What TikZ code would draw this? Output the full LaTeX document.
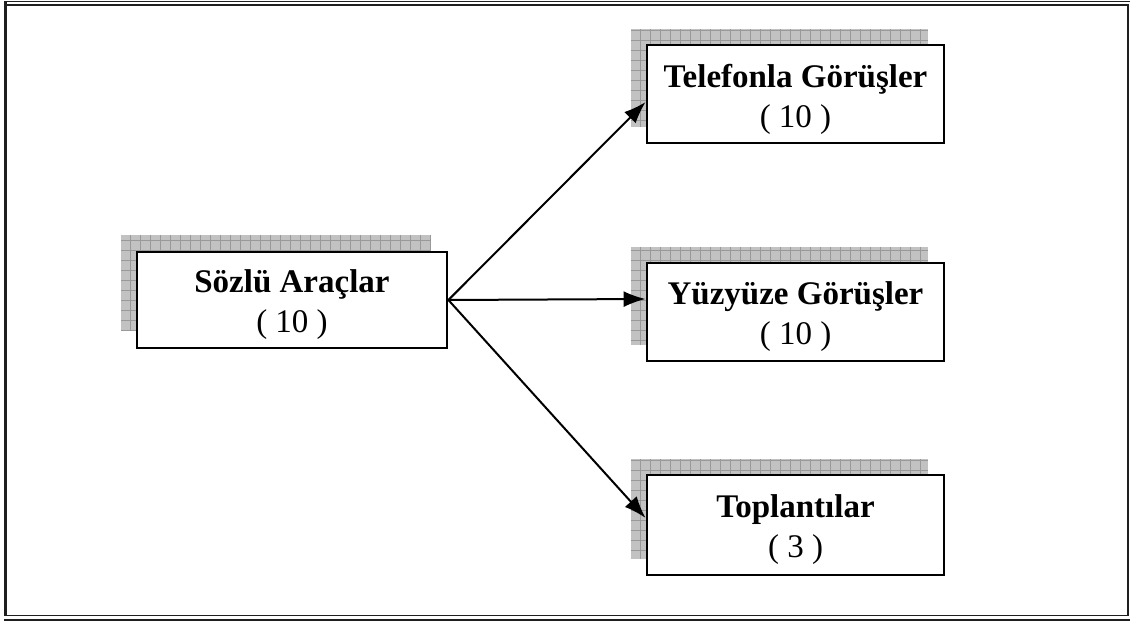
\documentclass[tikz,border=0pt]{standalone}
\usepackage{fontspec}
\setmainfont{Liberation Serif}
\usetikzlibrary{arrows.meta}
\tikzset{
  box/.style={draw=black, line width=2.8pt, fill=white, inner sep=0pt},
  lbl/.style={inner sep=0pt, align=center, font=\fontsize{33}{40}\selectfont},
  link/.style={line width=2pt, -{Latex[length=22pt,width=16pt]}},
  framerule/.style={line width=#1, draw=black!88},
}
% grid-textured drop shadow behind a box: centre, width, height
\newcommand{\gridshadow}[4]{%
  \begin{scope}
    \clip (#1-#3/2,#2-#4/2) rectangle (#1+#3/2,#2+#4/2);
    \fill[black!24] (#1-#3/2,#2-#4/2) rectangle (#1+#3/2,#2+#4/2);
    \draw[black!40, line width=0.8pt, step=10pt] (#1-#3/2,#2-#4/2) grid (#1+#3/2,#2+#4/2);
  \end{scope}}
\begin{document}
\begin{tikzpicture}[x=1pt,y=-1pt]
  \useasboundingbox[fill=white] (0,0) rectangle (1130,621);
  % outer frame
  \draw[framerule=3pt] (5.5,1.5) -- (5.5,616);
  \draw[framerule=1.8pt] (4,1.5) -- (1130,1.5);
  \draw[framerule=1.8pt] (7,5) -- (1128,5) -- (1128,615.5) -- (7,615.5);
  \draw[framerule=1.8pt] (4,619.6) -- (1130,619.6);

  % shadows
  \gridshadow{276}{283}{310}{96}
  \gridshadow{779.5}{78}{297}{98}
  \gridshadow{779.5}{296}{297}{98}
  \gridshadow{779.5}{509}{297}{100}

  % boxes
  \node[box, minimum width=310pt, minimum height=96pt] (s) at (292,300) {};
  \node[box, minimum width=297pt, minimum height=98pt] (t) at (795.5,94) {};
  \node[box, minimum width=297pt, minimum height=98pt] (y) at (795.5,312) {};
  \node[box, minimum width=297pt, minimum height=100pt] (p) at (795.5,525) {};

  % box texts
  \node[lbl] (s-txt) at ([yshift=-5pt]s.center) {\textbf{Sözlü Araçlar}\\( 10 )};
  \node[lbl] (t-txt) at ([yshift=-5pt]t.center) {\textbf{Telefonla Görüşler}\\( 10 )};
  \node[lbl] (y-txt) at ([yshift=-5pt]y.center) {\textbf{Yüzyüze Görüşler}\\( 10 )};
  \node[lbl] (p-txt) at ([yshift=-5pt]p.center) {\textbf{Toplantılar}\\( 3 )};

  % connectors
  \draw[link] (s.east) -- ([yshift=-8pt]t.west);
  \draw[link] (s.east) -- ([yshift=13pt]y.west);
  \draw[link] (s.east) -- ([yshift=7pt]p.west);
\end{tikzpicture}
\end{document}
